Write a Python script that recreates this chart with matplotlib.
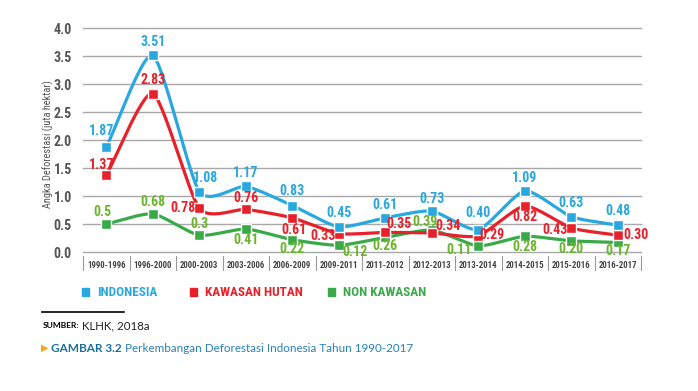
import numpy as np
import matplotlib
matplotlib.use("Agg")
import matplotlib.pyplot as plt
from matplotlib import font_manager as fm

periods = ["1990-1996", "1996-2000", "2000-2003", "2003-2006", "2006-2009", "2009-2011",
           "2011-2012", "2012-2013", "2013-2014", "2014-2015", "2015-2016", "2016-2017"]
indonesia = [1.87, 3.51, 1.08, 1.17, 0.83, 0.45, 0.61, 0.73, 0.40, 1.09, 0.63, 0.48]
kawasan = [1.37, 2.83, 0.78, 0.76, 0.61, 0.33, 0.35, 0.34, 0.29, 0.82, 0.43, 0.30]
non_kawasan = [0.5, 0.68, 0.3, 0.41, 0.22, 0.12, 0.26, 0.39, 0.11, 0.28, 0.20, 0.17]
ind_labels = ["1.87", "3.51", "1.08", "1.17", "0.83", "0.45", "0.61", "0.73", "0.40", "1.09", "0.63", "0.48"]
kaw_labels = ["1.37", "2.83", "0.78", "0.76", "0.61", "0.33", "0.35", "0.34", "0.29", "0.82", "0.43", "0.30"]
non_labels = ["0.5", "0.68", "0.3", "0.41", "0.22", "0.12", "0.26", "0.39", "0.11", "0.28", "0.20", "0.17"]
yticks = [0.0, 0.5, 1.0, 1.5, 2.0, 2.5, 3.0, 3.5, 4.0]

BLUE = "#29A8E0"
RED = "#E8202A"
GREEN = "#3AAA48"
GREEN_TXT = "#6BB52E"

avail = {f.name for f in fm.fontManager.ttflist}
cond = [f for f in ["Liberation Sans Narrow", "DejaVu Sans Condensed", "Roboto Condensed", "Roboto"] if f in avail]
COND = cond[0] if cond else "DejaVu Sans"
SANS = [f for f in ["Lato", "Open Sans", "DejaVu Sans"] if f in avail][0]
plt.rcParams['font.family'] = [COND, 'DejaVu Sans']

def cardinal(x, y, s=0.32, n=30):
    x = np.asarray(x, float); y = np.asarray(y, float)
    px = np.concatenate([[2*x[0]-x[1]], x, [2*x[-1]-x[-2]]])
    py = np.concatenate([[2*y[0]-y[1]], y, [2*y[-1]-y[-2]]])
    xs, ys = [], []
    t = np.linspace(0, 1, n)
    h00 = 2*t**3 - 3*t**2 + 1; h10 = t**3 - 2*t**2 + t
    h01 = -2*t**3 + 3*t**2; h11 = t**3 - t**2
    for i in range(1, len(px)-2):
        for arr, out in ((px, xs), (py, ys)):
            p0, p1, p2, p3 = arr[i-1], arr[i], arr[i+1], arr[i+2]
            m1 = s*(p2-p0); m2 = s*(p3-p1)
            out.append(h00*p1 + h10*m1 + h01*p2 + h11*m2)
    return np.concatenate(xs), np.concatenate(ys)

fig = plt.figure(figsize=(6.98, 3.91), dpi=100)
ax = fig.add_axes([83/698, 1-252/391, (641-83)/698, (252-28)/391])
x = np.arange(len(periods))
ax.set_xlim(-0.5, len(periods)-0.5)
ax.set_ylim(0, 4.0)
for v in yticks:
    ax.axhline(v, color="#A8A8A8", lw=1.0, zorder=0, clip_on=False)
for s in ax.spines.values():
    s.set_visible(False)
ax.set_yticks(yticks)
ax.set_yticklabels([f"{v:.1f}" for v in yticks], fontsize=10, fontweight="bold", color="#555555")
ax.tick_params(axis="y", length=0, pad=8)
ax.set_xticks([])

for vals, col in ((non_kawasan, GREEN), (kawasan, RED), (indonesia, BLUE)):
    sx, sy = cardinal(x, vals)
    ax.plot(sx, sy, color=col, lw=2.3, zorder=3, clip_on=False, solid_capstyle="round")
    ax.plot(x, vals, ls="none", marker="s", ms=6.5, mfc=col, mec="white", mew=1.0, zorder=4, clip_on=False)

def lab(vals, labels, offs, col):
    for i, (v, t, o) in enumerate(zip(vals, labels, offs)):
        ax.annotate(t, (i, v), xytext=o, textcoords="offset points", ha="center", va="center",
                    color=col, fontsize=10, fontweight="bold", zorder=5, annotation_clip=False)

lab(indonesia, ind_labels,
    [(-3.5, 11.5), (0, 10), (4.5, 10), (0, 9.5), (0, 10.5), (0, 10), (0, 9.5), (0, 9), (0, 12), (0, 9.5), (0, 10), (0, 10)],
    BLUE)
lab(kawasan, kaw_labels,
    [(-3, 7.5), (0, 10), (-11.5, 0.5), (0, 8.5), (1, -8.6), (-11.5, -2), (10, 6), (11.5, 5), (10, 0.5),
     (0, -8), (-12, -1.5), (13.5, 0)], RED)
lab(non_kawasan, non_labels,
    [(-3, 8.5), (0, 8.5), (0, 8), (0, -8), (0, -6.5), (11.5, -4.5), (0, -6), (-5, 6), (-13.5, -3),
     (0, -8), (0, -6), (0, -6)], GREEN_TXT)

# x category cells
for b in np.arange(-0.5, len(periods)+0.5, 1.0):
    ax.plot([b, b], [-0.07, -0.32], color="#999999", lw=0.8, clip_on=False)
for i, p in enumerate(periods):
    ax.text(i, -0.24, p, ha="center", va="center", fontsize=6.3, fontweight="bold", color="#444444")

fig.text(48/698, 1-144/391, "Angka Deforestasi (juta hektar)", rotation=90, ha="center", va="center",
         fontsize=7.5, color="#555555")

# legend
leg = [("INDONESIA", BLUE, 82), ("KAWASAN HUTAN", RED, 190), ("NON KAWASAN", GREEN, 328)]
for t, c, px in leg:
    fig.patches.append(plt.Rectangle((px/698, 1-296/391), 7/698, 8/391, transform=fig.transFigure,
                                     color=c, figure=fig))
    fig.text((px+15)/698, 1-292/391, t, ha="left", va="center", fontsize=9.5, fontweight="bold", color=c)

fig.add_artist(plt.Line2D([42/698, 124/698], [1-312/391, 1-312/391], color="black", lw=1.2))

renderer = fig.canvas.get_renderer()
def chain(parts, x0, ypix, gap=3):
    xp = x0
    for txt, kw in parts:
        t = fig.text(xp/698, 1-ypix/391, txt, va="center", **kw)
        xp += t.get_window_extent(renderer).width + gap

chain([("SUMBER:", dict(fontsize=6, fontweight="bold", color="black", family=SANS)),
       ("KLHK, 2018a", dict(fontsize=8.3, color="#222222", family=SANS))], 43, 326)
fig.text(41/698, 1-348/391, "\u25B6", fontsize=7, color="#F5A623", va="center", family="DejaVu Sans")
chain([("GAMBAR 3.2", dict(fontsize=8.5, fontweight="bold", color="#1A6FA0", family=SANS)),
       ("Perkembangan Deforestasi Indonesia Tahun 1990-2017", dict(fontsize=8.4, color="#2A80B8", family=SANS))],
      51, 348)

fig.savefig("out.png", dpi=100)
